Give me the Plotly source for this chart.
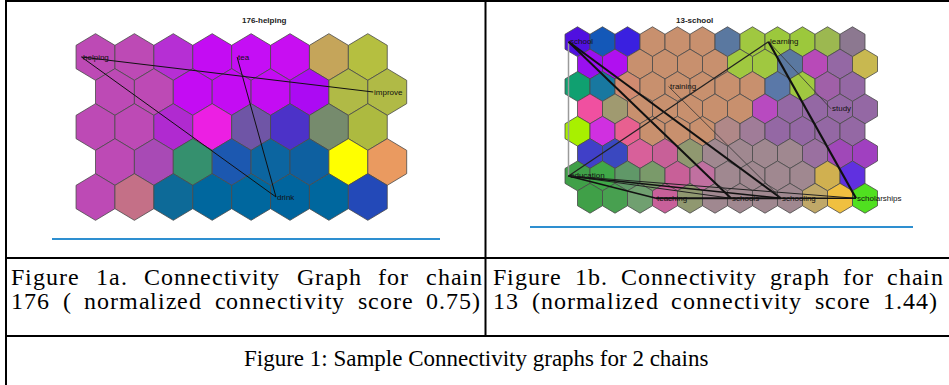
import plotly.graph_objects as go

W, H = 949, 385

# ---------------- data ----------------
left_title = "176-helping"
left_colors = [
    ["#bd4ab5", "#bd4ab5", "#b62fd4", "#c40cf3", "#c50ef5", "#c80ef2", "#c5a55a", "#b5bf40"],
    ["#bd4ab5", "#bd4ab5", "#c40cf3", "#c40cf3", "#c40cf3", "#ac0af3", "#b0ba46", "#b0ba46"],
    ["#bd4ab5", "#bd4ab5", "#b02ad0", "#ec1fe3", "#6f55a6", "#4c32c8", "#768b6d", "#adba40"],
    ["#bd4ab5", "#a84ab5", "#35906e", "#1c58b0", "#0c65a0", "#0e60a0", "#ffff00", "#ea9a60"],
    ["#bd4ab5", "#c47087", "#0d6a98", "#00679e", "#00679e", "#00659e", "#00679e", "#2349b8"],
]
left_words = ["helping", "tea", "improve", "drink"]
left_word_rows = [0, 0, 1, 4]
left_word_cols = [0, 4, 7, 5]
left_edges = [("helping", "improve", 1.0, "#111111"),
              ("helping", "drink", 1.0, "#111111"),
              ("tea", "drink", 1.0, "#111111")]

right_title = "13-school"
TAN = "#c8906e"
MV = "#9468a4"
GM = "#a08890"
right_colors = [
    ["#5010e0", "#1458b8", "#3a20e0", TAN, TAN, TAN, "#5a78a0", "#a0c840", "#9cc83c", "#9cc83c", "#9cb850", "#8c7890"],
    ["#9a10f0", "#b010f0", TAN, TAN, TAN, TAN, "#a0c840", "#a0c840", "#5a78a0", "#b84ab8", MV, "#c8b850"],
    ["#10a070", "#1878a0", "#d08a70", TAN, TAN, TAN, TAN, TAN, "#5a78a8", "#a0c840", "#a060a8", MV],
    ["#f050a0", "#a09a70", TAN, TAN, TAN, TAN, TAN, "#b84ac0", MV, MV, MV, MV],
    ["#a8f000", "#d030e0", "#e86090", TAN, TAN, TAN, "#b08888", "#a07c98", MV, MV, MV, MV],
    ["#4040c8", "#3a48c0", "#d8609a", "#c86098", "#909870", GM, GM, GM, GM, "#9a70a0", "#a048b8", "#a040c0"],
    ["#40a048", "#40a848", "#609868", "#7a9a6a", "#c86098", "#c070a0", GM, GM, GM, GM, "#d0b050", "#6030e0"],
    ["#40a048", "#48a050", "#70a070", "#c8609a", "#909870", GM, GM, GM, GM, "#c0a868", "#f0c040", "#50e020"],
]
right_words = ["school", "learning", "training", "study", "education",
               "teaching", "schools", "schooling", "scholarships"]
right_word_rows = [0, 0, 2, 3, 6, 7, 7, 7, 7]
right_word_cols = [0, 8, 4, 10, 0, 3, 6, 8, 11]
right_edges = [
    ("school", "education", 1.5, "#9a9a9a"),
    ("school", "schools", 2.0, "#111111"),
    ("school", "schooling", 2.0, "#111111"),
    ("education", "learning", 1.2, "#222222"),
    ("learning", "scholarships", 2.2, "#111111"),
    ("learning", "study", 0.8, "#333333"),
    ("training", "schooling", 0.8, "#333333"),
    ("education", "teaching", 1.5, "#111111"),
    ("education", "schools", 1.0, "#222222"),
    ("education", "schooling", 1.5, "#111111"),
    ("education", "scholarships", 1.0, "#222222"),
    ("teaching", "schooling", 2.0, "#111111"),
    ("schooling", "scholarships", 1.5, "#111111"),
]

caption_a = ["Figure 1a. Connectivity Graph for chain",
             "176 ( normalized connectivity score 0.75)"]
caption_b = ["Figure 1b. Connectivity graph for chain",
             "13 (normalized connectivity score 1.44)"]
caption_main = "Figure 1: Sample Connectivity graphs for 2 chains"

# ---------------- figure ----------------
fig = go.Figure()

HX = [-0.5, 0.0, 0.5, 0.5, 0.0, -0.5, -0.5]
HY = [-1 / 3, -2 / 3, -1 / 3, 1 / 3, 2 / 3, 1 / 3, -1 / 3]
LABEL_SHIFT = 0.36


def node_u(r, c):
    return c + 0.5 * (r % 2)


def add_som(colors, words, wrows, wcols, edges, xa, ya):
    for r, row in enumerate(colors):
        for c, col in enumerate(row):
            u = node_u(r, c)
            fig.add_trace(go.Scatter(
                x=[u + dx for dx in HX], y=[r + dy for dy in HY],
                mode="lines", fill="toself", fillcolor=col,
                line=dict(color="#4a4a4a", width=0.8),
                hoverinfo="skip", showlegend=False, xaxis=xa, yaxis=ya))
    pos = {w: (node_u(r, c) - LABEL_SHIFT, r) for w, r, c in zip(words, wrows, wcols)}
    for a, b, wdt, colr in edges:
        fig.add_trace(go.Scatter(
            x=[pos[a][0], pos[b][0]], y=[pos[a][1], pos[b][1]],
            mode="lines", line=dict(color=colr, width=wdt),
            hoverinfo="skip", showlegend=False, xaxis=xa, yaxis=ya))
    for w in words:
        fig.add_annotation(x=pos[w][0], y=pos[w][1], xref=xa, yref=ya,
                           text=w, showarrow=False, xanchor="left", yanchor="middle",
                           borderpad=0, font=dict(family="Liberation Sans, Arial", size=8, color="#111"))


add_som(left_colors, left_words, left_word_rows, left_word_cols, left_edges, "x", "y")
add_som(right_colors, right_words, right_word_rows, right_word_cols, right_edges, "x2", "y2")


def px_dom_x(a, b):
    return [a / W, b / W]


def px_dom_y(top, bot):
    return [1 - bot / H, 1 - top / H]


# left panel: node centre px = 95.5 + 38.9*u ; py = 57 + 35*r
L0x, Lsx, L0y, Lsy = 95.5, 38.9, 57.0, 35.0
lx = (60, 420); ly = (25, 225)
fig.update_layout(
    xaxis=dict(domain=px_dom_x(*lx), range=[(lx[0] - L0x) / Lsx, (lx[1] - L0x) / Lsx], visible=False),
    yaxis=dict(domain=px_dom_y(*ly), range=[(ly[1] - L0y) / Lsy, (ly[0] - L0y) / Lsy], visible=False),
)
# right panel: node centre px = 577.5 + 25*u ; py = 41.7 + 22.37*r
R0x, Rsx, R0y, Rsy = 577.5, 25.0, 41.7, 22.37
rx = (545, 905); ry = (20, 215)
fig.update_layout(
    xaxis2=dict(domain=px_dom_x(*rx), range=[(rx[0] - R0x) / Rsx, (rx[1] - R0x) / Rsx], visible=False),
    yaxis2=dict(domain=px_dom_y(*ry), range=[(ry[1] - R0y) / Rsy, (ry[0] - R0y) / Rsy], visible=False),
)


def P(xp, yp):
    return xp / W, 1 - yp / H


# titles of the images
for t, xp in ((left_title, 240), (right_title, 715)):
    x, y = P(xp, 14)
    fig.add_annotation(x=x, y=y, xref="paper", yref="paper", text="<b>%s</b>" % t,
                       showarrow=False, font=dict(family="Liberation Sans, Arial", size=8, color="#222"))

# table rules
shapes = []


def hline(x0, x1, yp, color="black", w=2):
    a, y = P(x0, yp)
    b, _ = P(x1, yp)
    shapes.append(dict(type="line", xref="paper", yref="paper", x0=a, x1=b, y0=y, y1=y,
                       line=dict(color=color, width=w)))


def vline(xp, y0, y1, color="black", w=2):
    x, a = P(xp, y0)
    _, b = P(xp, y1)
    shapes.append(dict(type="line", xref="paper", yref="paper", x0=x, x1=x, y0=a, y1=b,
                       line=dict(color=color, width=w)))


hline(5, 949, 1)
vline(6, 0, 385)
vline(485.5, 0, 337)
hline(5, 949, 258)
hline(5, 949, 336)
hline(52, 440, 239, "#2e8fd0", 2)
hline(530, 913, 227, "#2e8fd0", 2)
fig.update_layout(shapes=shapes)

# Times metrics (1/1000 em) for justified caption lines
TW = {" ": 250, "(": 333, ")": 333, ".": 250, ":": 278, "F": 556, "C": 667, "G": 722, "S": 556,
      "a": 444, "b": 500, "c": 444, "d": 500, "e": 444, "f": 333, "g": 500, "h": 500, "i": 278,
      "l": 278, "m": 778, "n": 500, "o": 500, "p": 500, "r": 333, "s": 389, "t": 278, "u": 500,
      "v": 500, "y": 500, "z": 444}

serif = "Liberation Serif, Times New Roman, serif"
CAP_SIZE = 24
LETTER_EXTRA = 1.0


def justified(line, x0, x1, yp, size):
    widths = [TW.get(ch, 500) * size / 1000.0 + LETTER_EXTRA for ch in line]
    n_sp = line.count(" ")
    gap = (x1 - x0 - sum(widths) + LETTER_EXTRA) / max(n_sp, 1)
    x = x0
    for ch, wd in zip(line, widths):
        if ch == " ":
            x += wd + gap
            continue
        px, py = P(x, yp)
        fig.add_annotation(x=px, y=py, xref="paper", yref="paper", text=ch, showarrow=False,
                           xanchor="left", yanchor="middle", borderpad=0,
                           font=dict(family=serif, size=size, color="black"))
        x += wd


justified(caption_a[0], 10, 481, 277, CAP_SIZE)
justified(caption_a[1], 10, 479, 301, CAP_SIZE)
justified(caption_b[0], 492, 942, 277, CAP_SIZE)
justified(caption_b[1], 492, 936, 301, CAP_SIZE)

x, y = P(476, 358)
fig.add_annotation(x=x, y=y, xref="paper", yref="paper", text=caption_main, showarrow=False,
                   xanchor="center", yanchor="middle", font=dict(family=serif, size=23, color="black"))

fig.update_layout(width=W, height=H, margin=dict(l=0, r=0, t=0, b=0),
                  paper_bgcolor="white", plot_bgcolor="white", showlegend=False)

fig.write_html("out.html", config={"displayModeBar": False},
               post_script="document.body.style.margin='0';document.body.style.overflow='hidden';")
